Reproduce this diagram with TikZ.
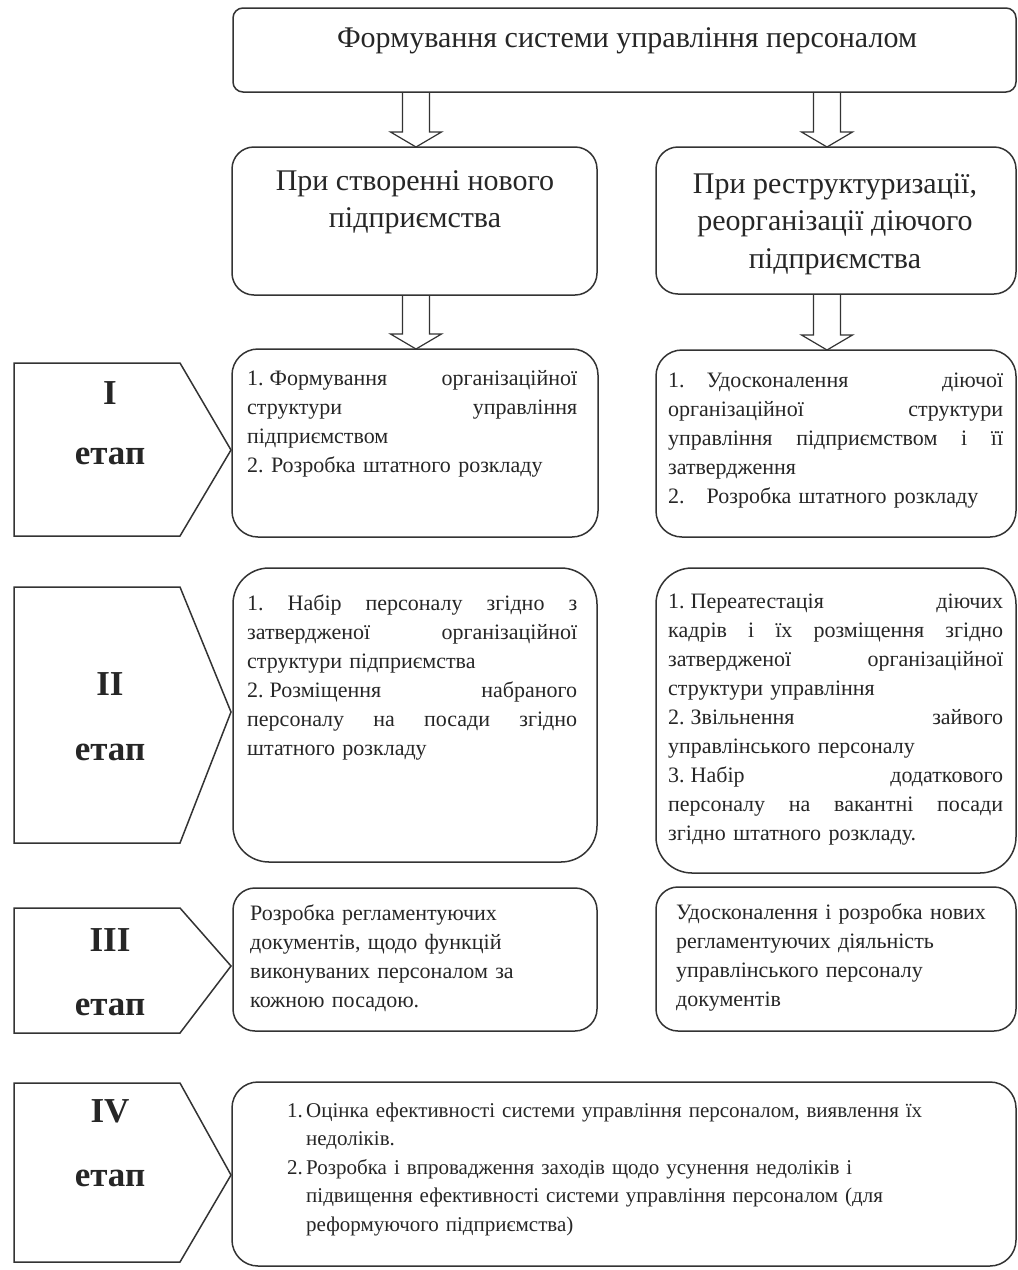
\documentclass[tikz,border=0pt]{standalone}
\usepackage{fontspec}
\setmainfont{Liberation Serif}
\usetikzlibrary{calc}
\frenchspacing
\tikzset{
  box/.style={draw=black!80, line width=1.5pt, inner sep=0pt, outer sep=0pt, anchor=north west},
  penta/.style={draw=black!80, line width=1.5pt, line join=miter},
  body/.style={inner sep=0pt, anchor=north west, align=left, font=\fontsize{22}{29}\selectfont, text=black!85},
  head/.style={inner sep=0pt, anchor=north, align=center, font=\fontsize{30}{37.5}\selectfont, text=black!85},
  stage/.style={inner sep=0pt, anchor=base, font=\bfseries\fontsize{35}{42}\selectfont, text=black!85},
  blockarrow/.style={draw=black!80, line width=1.2pt, line join=miter},
}
\newcommand\jl[2][330pt]{\leavevmode\hbox to #1{\spaceskip=0.25em plus 1fil\relax #2}}
\newcommand\blockarrow[2]{\draw[blockarrow] let \p1=(#1), \p2=(#2) in
  (\x1-13.5pt,\y1) -- (\x1-13.5pt,\y2+15pt) -- (\x1-25.5pt,\y2+15pt) -- (\x1,\y2)
  -- (\x1+25.5pt,\y2+15pt) -- (\x1+13.5pt,\y2+15pt) -- (\x1+13.5pt,\y1);}
\begin{document}
\begin{tikzpicture}[x=1pt,y=-1pt]
\useasboundingbox (0,0) rectangle (1018,1270);
% boxes
\node[box, rounded corners=10pt, minimum width=783pt, minimum height=84pt] (top) at (233,8) {};
\node[box, rounded corners=22pt, minimum width=365pt, minimum height=148pt] (A) at (232,147) {};
\node[box, rounded corners=22pt, minimum width=360pt, minimum height=147pt] (B) at (656,147) {};
\node[box, rounded corners=26pt, minimum width=366pt, minimum height=188pt] (IL) at (232,349) {};
\node[box, rounded corners=26pt, minimum width=360pt, minimum height=187pt] (IR) at (656,350) {};
\node[box, rounded corners=36pt, minimum width=364pt, minimum height=294pt] (IIL) at (233,568) {};
\node[box, rounded corners=36pt, minimum width=360pt, minimum height=305pt] (IIR) at (656,568) {};
\node[box, rounded corners=22pt, minimum width=364pt, minimum height=143pt] (IIIL) at (233,888) {};
\node[box, rounded corners=22pt, minimum width=360pt, minimum height=144pt] (IIIR) at (656,887) {};
\node[box, rounded corners=26pt, minimum width=784pt, minimum height=184pt] (IV) at (232,1082) {};
% arrows
\coordinate (Lx) at (416,0);
\coordinate (Rx) at (827,0);
\blockarrow{top.south -| Lx}{A.north -| Lx}
\blockarrow{top.south -| Rx}{B.north -| Rx}
\blockarrow{A.south -| Lx}{IL.north -| Lx}
\blockarrow{B.south -| Rx}{IR.north -| Rx}
% stage pentagons
\draw[penta] (14,363) -- (180,363) -- (231,450) -- (180,536) -- (14,536) -- cycle;
\draw[penta] (14,587) -- (180,587) -- (231,712) -- (180,843) -- (14,843) -- cycle;
\draw[penta] (14,908) -- (180,908) -- (231,966) -- (180,1033) -- (14,1033) -- cycle;
\draw[penta] (14,1083) -- (180,1083) -- (231,1175) -- (180,1262) -- (14,1262) -- cycle;
\node[stage] (s1a) at (110,404) {I};
\node[stage] (s1b) at (110,464) {етап};
\node[stage] (s2a) at (110,695) {II};
\node[stage] (s2b) at (110,760) {етап};
\node[stage] (s3a) at (110,951) {III};
\node[stage] (s3b) at (110,1015) {етап};
\node[stage] (s4a) at (110,1122) {IV};
\node[stage] (s4b) at (110,1186) {етап};
% texts
\node[inner sep=0pt, anchor=base, font=\fontsize{30}{36}\selectfont, text=black!85] (title) at (627,47) {Формування системи управління персоналом};
\node[head] (tA) at (415,164) {\strut При створенні нового\\підприємства};
\node[head] (tB) at (835,167) {\strut При реструктуризації,\\реорганізації діючого\\підприємства};
\node[body, text width=330pt] (tIL) at (247,365) {\noindent\strut\jl{1.\hspace{6pt}Формування організаційної}\\
\jl{структури управління}\\
підприємством\\
2. Розробка штатного розкладу};
\node[body, text width=335pt] (tIR) at (668,367) {\noindent\strut\jl[335pt]{1.\hspace{22pt}Удосконалення діючої}\\
\jl[335pt]{організаційної структури}\\
\jl[335pt]{управління підприємством і її}\\
затвердження\\
2.\hspace{22pt}Розробка штатного розкладу};
\node[body, text width=330pt] (tIIL) at (247,590) {\noindent\strut\jl{1. Набір персоналу згідно з}\\
\jl{затвердженої організаційної}\\
структури підприємства\\
\jl{2.\hspace{6pt}Розміщення набраного}\\
\jl{персоналу на посади згідно}\\
штатного розкладу};
\node[body, text width=335pt] (tIIR) at (668,588) {\noindent\strut\jl[335pt]{1.\hspace{6pt}Переатестація діючих}\\
\jl[335pt]{кадрів і їх розміщення згідно}\\
\jl[335pt]{затвердженої організаційної}\\
структури управління\\
\jl[335pt]{2.\hspace{6pt}Звільнення зайвого}\\
управлінського персоналу\\
\jl[335pt]{3.\hspace{6pt}Набір додаткового}\\
\jl[335pt]{персоналу на вакантні посади}\\
згідно штатного розкладу.};
\node[body, text width=335pt] (tIIIL) at (250,900) {\noindent\strut Розробка регламентуючих\\
документів, щодо функцій\\
виконуваних персоналом за\\
кожною посадою.};
\node[body, text width=335pt] (tIIIR) at (676,899) {\noindent\strut Удосконалення і розробка нових\\
регламентуючих діяльність\\
управлінського персоналу\\
документів};
\node[body, text width=715pt, font=\fontsize{21}{28.5}\selectfont] (tIV) at (287,1097) {\noindent\strut\makebox[19pt][l]{1.}Оцінка ефективності системи управління персоналом, виявлення їх\\
\hspace*{19pt}недоліків.\\
\makebox[19pt][l]{2.}Розробка і впровадження заходів щодо усунення недоліків і\\
\hspace*{19pt}підвищення ефективності системи управління персоналом (для\\
\hspace*{19pt}реформуючого підприємства)};
\end{tikzpicture}
\end{document}
